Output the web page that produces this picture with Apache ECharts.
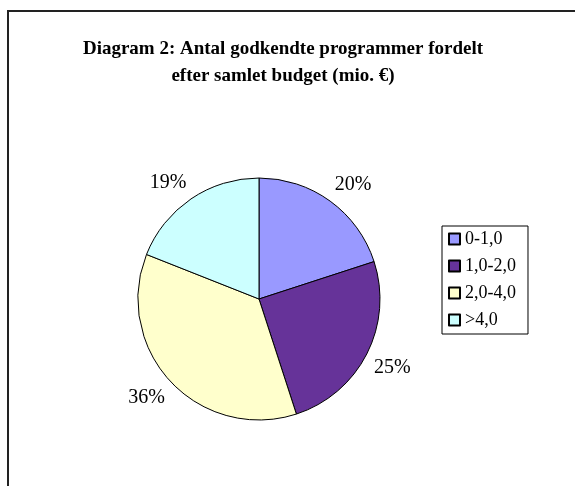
<!DOCTYPE html>
<html>
<head>
<meta charset="utf-8">
<script src="https://cdn.jsdelivr.net/npm/echarts@6/dist/echarts.min.js"></script>
<style>
  html, body { margin: 0; padding: 0; background: #fff; }
  #main { width: 575px; height: 486px; }
</style>
</head>
<body>
<div id="main"></div>
<script>
// budget-intervaller (mio. €) og andel af godkendte programmer (%)
var categories = ['0-1,0', '1,0-2,0', '2,0-4,0', '>4,0'];
var shares = [20, 25, 36, 19];
var colors = ['#9999FF', '#663399', '#FFFFCC', '#CCFFFF'];

var serif = '"Liberation Serif", "Times New Roman", serif';
var cx = 259, cy = 299, radius = 121;
var labelGap = 8; // afstand mellem cirklen og etiketboksens nærmeste hjørne

var pieData = categories.map(function (name, i) {
  return { name: name, value: shares[i], itemStyle: { color: colors[i] } };
});

var total = shares.reduce(function (a, b) { return a + b; }, 0);

// etiketboksens nærmeste hjørne lægges på udsnittets midtervinkel, lige uden for cirklen
function placeLabel(params) {
  var before = 0;
  for (var k = 0; k < params.dataIndex; k++) before += shares[k];
  var mid = (before + shares[params.dataIndex] / 2) / total * Math.PI * 2;
  var sx = Math.sin(mid), sy = -Math.cos(mid);
  var hw = params.labelRect.width / 2, hh = params.labelRect.height / 2;
  var r = radius + labelGap;
  return {
    x: cx + r * sx + (sx < 0 ? -hw : hw),
    y: cy + r * sy + (sy < 0 ? -hh : hh),
    align: 'center',
    verticalAlign: 'middle'
  };
}

var chart = echarts.init(document.getElementById('main'));
chart.setOption({
  backgroundColor: '#fff',
  animation: false,
  title: {
    text: 'Diagram 2: Antal godkendte programmer fordelt\nefter samlet budget (mio. €)',
    left: 278,
    top: 31,
    textAlign: 'center',
    textStyle: {
      fontFamily: serif,
      fontWeight: 'bold',
      fontSize: 19,
      lineHeight: 27,
      color: '#000'
    }
  },
  // ramme om diagrammet
  graphic: [{
    type: 'rect',
    shape: { x: 8, y: 11, width: 600, height: 500 },
    style: { fill: 'none', stroke: '#222', lineWidth: 2 },
    silent: true
  }],
  legend: {
    orient: 'vertical',
    left: 442,
    top: 226,
    padding: [4, 12, 5, 6],
    itemGap: 9,
    itemWidth: 11,
    itemHeight: 11,
    icon: 'rect',
    borderColor: '#000',
    borderWidth: 1,
    textStyle: { fontFamily: serif, fontSize: 18, lineHeight: 18, color: '#000' },
    data: categories
  },
  series: [{
    type: 'pie',
    center: [cx, cy],
    radius: radius,
    startAngle: 90,
    clockwise: true,
    avoidLabelOverlap: false,
    itemStyle: { borderColor: '#000', borderWidth: 1 },
    label: {
      show: true,
      position: 'outside',
      formatter: '{c}%',
      fontFamily: serif,
      fontSize: 20,
      color: '#000'
    },
    labelLine: { show: false },
    labelLayout: placeLabel,
    emphasis: { disabled: true },
    data: pieData
  }]
});
</script>
</body>
</html>
